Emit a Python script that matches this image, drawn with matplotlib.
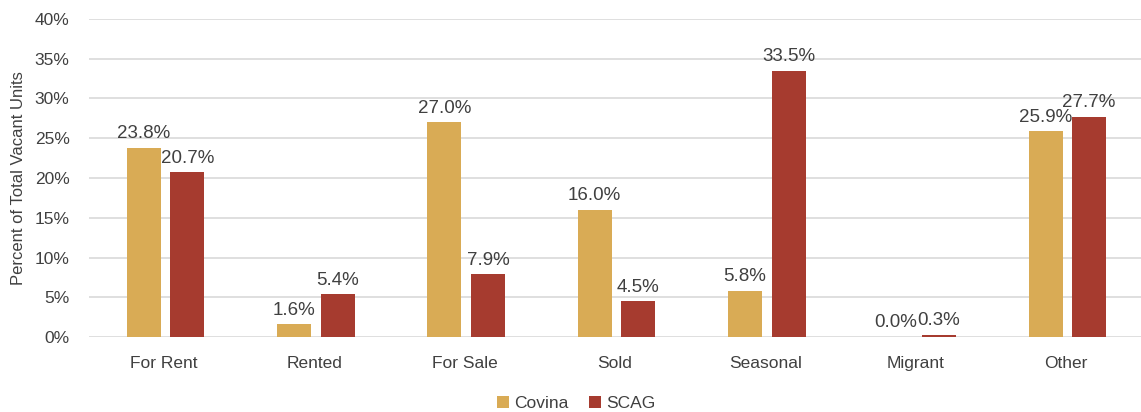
import numpy as np
import matplotlib
matplotlib.use("Agg")
import matplotlib.pyplot as plt
from matplotlib.ticker import FuncFormatter

# vacancy status shares, percent of total vacant units
categories = ["For Rent", "Rented", "For Sale", "Sold", "Seasonal", "Migrant", "Other"]
covina = [23.8, 1.6, 27.0, 16.0, 5.8, 0.0, 25.9]
scag = [20.7, 5.4, 7.9, 4.5, 33.5, 0.3, 27.7]

plt.rcParams["font.family"] = ["Liberation Sans", "DejaVu Sans"]
txt = "#404040"

fig = plt.figure(figsize=(11.41, 4.12), dpi=100)
ax = fig.add_axes([0.078, 0.182, 0.922, 0.772])

x = np.arange(len(categories))
w = 0.227
off = 0.145
b1 = ax.bar(x - off + 0.01, covina, w, color="#D9AB55", label="Covina", zorder=3)
b2 = ax.bar(x + off + 0.01, scag, w, color="#A63B2F", label="SCAG", zorder=3)

for bars, vals in ((b1, covina), (b2, scag)):
    for b, v in zip(bars, vals):
        ax.annotate(f"{v:.1f}%", (b.get_x() + b.get_width() / 2, v),
                    xytext=(0, 4), textcoords="offset points",
                    ha="center", va="bottom", fontsize=13.5, color=txt)

ax.set_xlim(-0.5, len(categories) - 0.5)
ax.set_ylim(0, 40)
ax.set_yticks(np.arange(0, 41, 5))
ax.yaxis.set_major_formatter(FuncFormatter(lambda v, p: f"{v:.0f}%"))
ax.set_xticks(x)
ax.set_xticklabels(categories)
ax.tick_params(axis="both", length=0, labelsize=12.5, colors=txt)
ax.tick_params(axis="x", pad=14)
ax.tick_params(axis="y", pad=14)
ax.grid(axis="y", color="#d9d9d9", linewidth=1.2, zorder=0)
for s in ax.spines.values():
    s.set_visible(False)
ax.set_ylabel("Percent of Total Vacant Units", fontsize=12, color=txt, labelpad=6)

fig.legend(loc="lower center", bbox_to_anchor=(0.505, -0.035), ncol=2, frameon=False,
           fontsize=12.5, handlelength=0.7, handleheight=0.7, handletextpad=0.3,
           columnspacing=1.2, labelcolor=txt)

fig.savefig("out.png", dpi=100)
